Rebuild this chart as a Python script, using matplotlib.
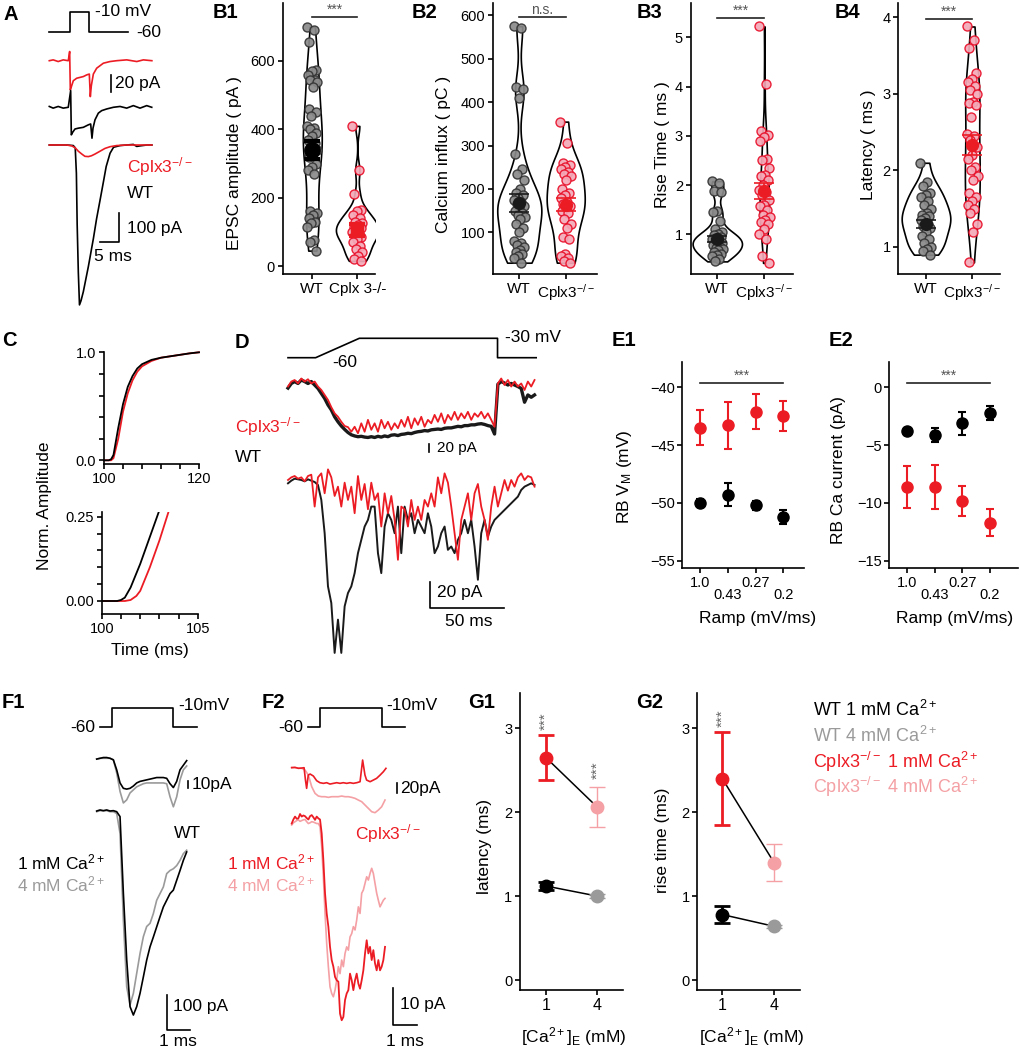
import matplotlib
matplotlib.use('Agg')
import matplotlib.pyplot as plt
import numpy as np

plt.rcParams['font.family'] = ['Liberation Sans', 'DejaVu Sans']
plt.rcParams['mathtext.fontset'] = 'custom'
plt.rcParams['mathtext.rm'] = 'Liberation Sans'
plt.rcParams['mathtext.it'] = 'Liberation Sans:italic'
plt.rcParams['mathtext.bf'] = 'Liberation Sans:bold'
plt.rcParams['axes.linewidth'] = 1.2
plt.rcParams['xtick.major.width'] = 1.2
plt.rcParams['ytick.major.width'] = 1.2
plt.rcParams['xtick.major.size'] = 3.5
plt.rcParams['ytick.major.size'] = 3.5
plt.rcParams['xtick.major.pad'] = 2
plt.rcParams['ytick.major.pad'] = 2
plt.rcParams['xtick.labelsize'] = 10.5
plt.rcParams['ytick.labelsize'] = 10.5

RED = '#ec1c24'
PINK = '#f4a0a4'
GRAY = '#9a9a9a'
WT_FACE, WT_EDGE = '#8a8a8a', '#333333'
KO_FACE, KO_EDGE = '#f4a9b8', '#e8102a'
KO = r'Cplx3$^{-/-}$'
CA = r'Ca$^{2+}$'
FS_LAB, FS_TXT, FS_PANEL = 12.5, 12.5, 14.5

# ---------------- data ----------------
# A: step, zoomed onset/offset currents, full EPSCs (ms, pA)
a_step_t = [0, 5.3, 5.3, 10.3, 10.3, 20.4]
a_step_v = [-60, -60, -10, -10, -60, -60]
a_zoom_t_ko = [0, 1.0, 2.3, 3.6, 4.9, 5.26, 5.43, 5.78, 6.2, 7.07, 7.93, 8.79, 9.66,
               10.34, 10.6, 10.86, 11.38, 12.24, 13.1, 13.97, 15.69, 17.4, 20.0, 22.6, 24.3, 26.5]
a_zoom_i_ko = [0, 1, -1, 1, 0, 11, -35, -30, -24, -21, -20, -19, -17,
               -16, -43, -30, -16, -9, -6, -3, -1, 0, 1, -1, 1, 0]
a_zoom_t_wt = [0, 1.0, 2.3, 3.6, 4.9, 5.52, 5.69, 6.03, 6.64, 7.5, 8.79, 10.09, 10.69,
               11.03, 11.29, 11.81, 12.67, 13.53, 14.83, 16.55, 18.28, 20.0, 21.72, 23.45, 25.17, 26.47]
a_zoom_i_wt = [1, -1, 1, -1, 0, 20, -33, -30, -26, -25, -24, -21, -20,
               -37, -25, -15, -7, -4, -2, 0, 1, -1, 2, -1, 2, 0]
a_full_t_wt = [0, 4.5, 6.2, 6.7, 7.0, 7.2, 7.5, 7.8, 8.2, 8.8, 9.5, 10.1, 11.4,
               12.2, 13.1, 14.0, 14.7, 15.7, 16.6, 18.3, 20.0, 21.7, 22.6, 23.5, 25.2, 26.5]
a_full_i_wt = [0, 0, -2, -10, -100, -280, -450, -565, -550, -518, -470, -429, -330,
               -262, -196, -129, -76, -29, -8, -2, 0, 2, -5, -3, 0, 0]
a_full_t_ko = [0, 4.5, 5.8, 6.7, 7.5, 8.4, 9.2, 10.1, 10.9, 11.8, 13.1, 14.4, 15.7, 17.4, 20.0, 26.5]
a_full_i_ko = [0, 0, -3, -10, -22, -32, -40, -41, -38, -32, -22, -12, -6, -2, 0, 0]

# B1-B4: single cells
b1_wt = [700, 690, 655, 575, 570, 560, 545, 545, 540, 525, 460, 450, 440, 410, 405, 400, 390,
         380, 370, 360, 350, 340, 330, 320, 300, 290, 280, 270, 160, 155, 150, 140, 130, 125,
         115, 75, 70, 45]
b1_ko = [410, 280, 210, 165, 160, 150, 140, 130, 125, 120, 115, 110, 105, 100, 95, 90, 85, 80,
         70, 60, 50, 40, 30, 20, 15]
b2_wt = [575, 570, 435, 430, 410, 280, 245, 235, 220, 200, 190, 185, 180, 175, 170, 165, 160,
         155, 150, 145, 140, 135, 130, 120, 110, 100, 80, 75, 70, 65, 60, 55, 50, 45, 40, 30]
b2_ko = [355, 305, 260, 255, 250, 245, 240, 235, 230, 220, 200, 190, 185, 180, 170, 165, 160,
         155, 150, 145, 130, 120, 110, 90, 85, 50, 45, 40, 35, 30]
b3_wt = [2.08, 2.05, 1.87, 1.85, 1.47, 1.45, 1.27, 1.1, 1.05, 1.0, 0.98, 0.95, 0.92, 0.9, 0.88,
         0.85, 0.83, 0.8, 0.78, 0.75, 0.72, 0.7, 0.68, 0.65, 0.6, 0.58, 0.55, 0.5, 0.45]
b3_ko = [5.22, 4.05, 3.1, 3.02, 2.98, 2.9, 2.52, 2.5, 2.35, 2.2, 2.18, 2.1, 2.0, 1.9, 1.85, 1.8,
         1.7, 1.6, 1.58, 1.5, 1.4, 1.35, 1.3, 1.25, 1.2, 1.1, 1.0, 0.9, 0.55, 0.42]
b4_wt = [2.1, 1.85, 1.8, 1.7, 1.68, 1.65, 1.6, 1.55, 1.5, 1.45, 1.42, 1.4, 1.38, 1.35, 1.3, 1.28,
         1.25, 1.2, 1.15, 1.1, 1.05, 1.0, 0.98, 0.95, 0.9]
b4_ko = [3.88, 3.7, 3.6, 3.27, 3.2, 3.15, 3.1, 3.05, 3.0, 2.9, 2.88, 2.85, 2.7, 2.48, 2.45, 2.4,
         2.3, 2.2, 2.15, 2.05, 2.0, 1.93, 1.88, 1.7, 1.65, 1.6, 1.55, 1.5, 1.45, 1.3, 1.2, 0.8]
b_mean = {'b1': (340, 105), 'b2': (168, 163), 'b3': (0.9, 1.88), 'b4': (1.3, 2.33)}
b_sem = {'b1': (27, 17), 'b2': (21, 15), 'b3': (0.06, 0.17), 'b4': (0.05, 0.13)}

# C: cumulative normalized charge
c_t = [100, 101, 101.5, 102, 103, 104, 105, 106, 107, 108, 110, 112, 115, 118, 120]
c_wt = [0, 0, 0.01, 0.05, 0.3, 0.52, 0.68, 0.78, 0.85, 0.89, 0.93, 0.95, 0.97, 0.99, 1.0]
c_ko = [0, 0, 0, 0.02, 0.2, 0.45, 0.62, 0.74, 0.82, 0.87, 0.92, 0.95, 0.97, 0.99, 1.0]
c_zt_wt = [100, 100.8, 101.0, 101.2, 101.5, 102, 102.5, 103.0]
c_zy_wt = [0, 0, 0.003, 0.01, 0.04, 0.11, 0.19, 0.27]
c_zt_ko = [100, 101.2, 101.5, 101.8, 102, 102.5, 103, 103.5]
c_zy_ko = [0, 0, 0.003, 0.015, 0.03, 0.1, 0.18, 0.27]

# D: ramp protocol, Ca currents and EPSCs (sampled every 2.24 ms, pA)
d_dt = 2.242
d_ramp_t = [0, 18.6, 48, 141, 141, 167]
d_ramp_v = [-60, -60, -30, -30, -60, -60]
d_up_wt = [-8, 4, 9, 4, 13, 9, 4, 9, 0, -9, -22, -35, -52, -65, -83, -96, -107, -116, -124, -130,
           -133, -135, -134, -136, -137, -135, -137, -134, -136, -133, -135, -131, -130, -132, -129,
           -128, -126, -127, -124, -122, -121, -119, -120, -117, -116, -115, -116, -113, -112, -112,
           -110, -108, -109, -106, -106, -104, -104, -102, -101, -103, -106, -108, -128, 2, 9, 5, 0,
           4, 0, -4, -9, -45, -26, -32, -26]
d_up_ko = [-4, 9, 13, 4, 17, 9, 15, 4, 9, -4, -13, -26, -39, -58, -74, -83, -96, -107, -110, -122,
           -109, -126, -100, -122, -91, -117, -100, -122, -91, -113, -96, -117, -100, -113, -91,
           -109, -83, -113, -87, -104, -83, -109, -91, -100, -78, -96, -74, -100, -78, -91, -70,
           -91, -74, -87, -70, -91, -74, -83, -70, -87, -74, -91, -109, 4, 17, 0, 13, -4, 9, -4, 4,
           -13, 9, -4, 13]
d_lo_wt = [-2.5, -0.5, 1, 0.5, 0, -1, 0.5, -0.5, -1.5, -3.75, -15, -40, -80, -92.5, -130, -105,
           -130, -95, -85, -80, -70, -55, -45, -35, -30, -20, -20, -55, -70, -35, -25, -30, -40,
           -20, -55, -20, -30, -25, -40, -30, -35, -40, -25, -35, -55, -50, -40, -35, -52.5, -50,
           -55, -45, -40, -30, -40, -30, -50, -75, -40, -30, -42.5, -35, -30, -27.5, -25, -22.5,
           -20, -17.5, -15, -12.5, -7.5, -5, -3.75, -2.5, -3.75]
d_lo_ko = [0, 2, 3, 1, 2, -1, 3, 4, -20, 2, 5, -10, 8, 2, -12, -5, -20, -2, -15, -5, -25, 3, -15,
           -3, -22, -2, -15, -10, -35, -10, -25, -12, -30, -60, -20, -22, -35, -15, -30, -20, -30,
           -15, -20, -10, -20, 2, -10, 5, -2, -20, -40, -60, -30, -20, -10, -30, -10, -3, -20, -30,
           -45, -20, -5, -20, -10, 0, -8, 0, -5, 2, 5, 0, 3, 2, -5]

# E: rheobase Vm and Ca current vs ramp speed
e_ramp = ['1.0', '0.43', '0.27', '0.2']
e1_ko_m = [-43.5, -43.3, -42.1, -42.5]; e1_ko_e = [1.5, 2.0, 1.5, 1.3]
e1_wt_m = [-50.0, -49.3, -50.2, -51.2]; e1_wt_e = [0.3, 1.0, 0.4, 0.6]
e2_wt_m = [-3.8, -4.1, -3.1, -2.2]; e2_wt_e = [0.3, 0.6, 1.0, 0.6]
e2_ko_m = [-8.6, -8.6, -9.8, -11.7]; e2_ko_e = [1.8, 1.9, 1.3, 1.2]

# F: EPSCs at 1 and 4 mM Ca (F1 dt = 1/7 ms, F2 lower dt = 1/14 ms)
f_step_v = [-60, -60, -10, -10, -60, -60]
f1_step_t = [0.143, 0.643, 0.643, 3.286, 3.286, 4.29]
f2_step_t = [0.714, 1.214, 1.214, 3.857, 3.857, 4.857]
f1_up_1 = [-1, 0, 1, 1, 0, -2, -15, -32, -39, -40, -39, -36, -32, -30, -29, -28, -27, -26, -25,
           -25, -25, -26, -33, -38, -30, -15, -9, -3]
f1_up_4 = [-1, 0, 0, 0, 0, -2, -19, -43, -58, -54, -45, -41, -37, -35, -33, -32, -32, -32, -32,
           -32, -32, -33, -50, -63, -50, -28, -15, -10]
f1_lo_1 = [0, 3, 1, 3, 0, 1, -2, -16, -235, -425, -559, -583, -559, -521, -474, -426, -388, -360,
           -331, -302, -274, -255, -236, -226, -198, -170, -141, -117]
f1_lo_4 = [-2, 1, 0, 1, -2, -2, -7, -64, -311, -502, -554, -521, -464, -407, -359, -330, -321,
           -293, -255, -236, -217, -179, -170, -165, -156, -141, -122, -112]
f2_up_t1 = [0, 0.14, 0.29, 0.43, 0.53, 0.59, 0.64, 0.71, 0.79, 0.93, 1.07, 1.21, 1.36, 1.5, 1.64,
            1.79, 1.93, 2.07, 2.21, 2.36, 2.5, 2.64, 2.79, 2.93, 3.04, 3.14, 3.21, 3.36, 3.5, 3.64,
            3.79, 3.93, 4.04]
f2_up_1 = [0, 0.7, -1.3, -0.7, 0, -24.7, -41.3, -14.7, -12.7, -16.7, -26, -30, -31.3, -30, -32.7,
           -31.3, -30, -31.3, -30, -31.3, -30, -31.3, -30, -28, 15.3, -14.7, -24.7, -28, -24.7,
           -21.3, -14.7, -8, -1.3]
f2_up_4 = [0.7, 0, -0.7, -1.3, -4.7, -14.7, -38, -51.3, -56.7, -58, -58, -59.3, -58, -58, -58,
           -56.7, -58, -58, -59.3, -61.3, -64.7, -68, -74.7, -81.3, -88, -90, -84.7, -78, -64.7]
f2_lo_1 = [-0.5, 0.6, 1.4, 0.8, 0.9, 2.1, 1.4, 1.7, 1.5, 1.0, 0.6, 1.5, 1.8, 1.2, 0.5, 1.4, 0.9,
           0.6, -3.2, -10.5, -19.5, -25, -28.6, -34.1, -37.7, -39.5, -42.3, -43.2, -43.6, -52.3,
           -54.1, -53.2, -48.6, -46.8, -45.9, -41.4, -43.2, -45.9, -43.2, -41.4, -44.1, -45.5,
           -43.2, -40.5, -35.9, -32.3, -35.9, -34.1, -37.7, -35, -38.6, -40.5, -37.7, -40.5, -39.5,
           -37.7, -34.1]
f2_lo_4 = [-0.9, -0.3, 0, 0.3, 0.5, 0.1, 0.3, 0.5, 0.6, 0, -0.5, -0.3, 0, -0.1, -0.3, -0.5, -0.5,
           -1.4, -6.8, -15, -25, -33.2, -39.5, -45, -46.8, -47.7, -45.9, -43.2, -39.5, -41.4,
           -37.7, -39.5, -35.9, -34.1, -35, -31.4, -30.5, -28.6, -29.5, -26.8, -23.2, -25, -19.5,
           -18.6, -16.8, -15, -15.9, -14.1, -12.7, -14.1, -16.8, -19.5, -21.4, -23.2, -22.3, -21.4,
           -20.9]

# G: latency / rise time summary; order WT1, WT4, KO1, KO4
g_names = ['WT 1 mM ' + CA, 'WT 4 mM ' + CA, KO + ' 1 mM ' + CA, KO + ' 4 mM ' + CA]
g_colors = ['black', GRAY, RED, PINK]
g_lat_m = [1.12, 1.0, 2.65, 2.06]; g_lat_e = [0.05, 0.02, 0.27, 0.24]
g_rt_m = [0.78, 0.64, 2.4, 1.4]; g_rt_e = [0.1, 0.02, 0.55, 0.22]

# ---------------- figure helpers ----------------
W, H = 1019, 1050
fig = plt.figure(figsize=(W / 100, H / 100), dpi=100)


def box(x0, y0, x1, y1):
    ax = fig.add_axes([x0 / W, 1 - y1 / H, (x1 - x0) / W, (y1 - y0) / H])
    ax.patch.set_alpha(0)
    return ax


def lims(pa, va, pb, vb, p_lo, p_hi):
    k = (vb - va) / (pb - pa)
    return va + (p_lo - pa) * k, va + (p_hi - pa) * k


def ftxt(x, y, s, **kw):
    kw.setdefault('fontsize', FS_TXT)
    kw.setdefault('va', 'center')
    fig.text(x / W, 1 - y / H, s, **kw)


def trace_ax(x0, y0, x1, y1, xcal, ycal):
    ax = box(x0, y0, x1, y1)
    ax.set_axis_off()
    ax.set_xlim(lims(*xcal, x0, x1))
    ax.set_ylim(lims(*ycal, y1, y0))
    return ax


def bar(ax, x, y, dx, dy):
    ax.plot([x + dx, x, x], [y, y, y + dy], color='black', lw=1.2, clip_on=False)


def frame(ax, px, xlab=None, xlab_y=None, ylab=None, ylab_xy=None):
    x0, y0, x1, y1 = px
    for s in ('top', 'right'):
        ax.spines[s].set_visible(False)
    if ylab:
        ax.set_ylabel(ylab, fontsize=FS_LAB, va='center')
        ax.yaxis.set_label_coords((ylab_xy[0] - x0) / (x1 - x0), (y1 - ylab_xy[1]) / (y1 - y0))
    if xlab:
        ax.set_xlabel(xlab, fontsize=FS_LAB, va='center')
        ax.xaxis.set_label_coords(0.5 if xlab_y[0] is None else (xlab_y[0] - x0) / (x1 - x0),
                                  (y1 - xlab_y[1]) / (y1 - y0))


def nrd0(kde):
    d = np.asarray(kde.dataset).ravel()
    sd = d.std(ddof=1)
    iqr = np.subtract(*np.percentile(d, [75, 25]))
    return 0.9 * min(sd, iqr / 1.34) * len(d) ** -0.2 / sd


# ---------------- A ----------------
ftxt(3, 14, 'A', fontsize=FS_PANEL, fontweight='bold')
xa = (49.3, 0, 68.65, 5)
ax = trace_ax(40, 0, 160, 40, xa, (32.3, -60, 11.7, -10))
ax.plot(a_step_t, a_step_v, color='black', lw=1.2, clip_on=False)
ax = trace_ax(40, 45, 160, 150, xa, (60.7, 0, 77.4, -20))
ax.plot(a_zoom_t_ko, a_zoom_i_ko, color=RED, lw=1.2, clip_on=False)
ax.plot(a_zoom_t_wt, np.array(a_zoom_i_wt) - 55.8, color='black', lw=1.2, clip_on=False)
bar(ax, 15.9, -37.6, 0, 20)
ax = trace_ax(40, 130, 160, 310, xa, (145, 0, 173.3, -100))
ax.plot(a_full_t_wt, a_full_i_wt, color='black', lw=1.2, clip_on=False)
ax.plot(a_full_t_ko, a_full_i_ko, color=RED, lw=1.2, clip_on=False)
bar(ax, 18.1, -341, -5, 100)
ftxt(95, 12, '-10 mV')
ftxt(136.7, 32.3, '-60')
ftxt(115, 83.3, '20 pA')
ftxt(126.7, 166.7, KO, color=RED)
ftxt(126.7, 193.3, 'WT')
ftxt(126.7, 228.3, '100 pA')
ftxt(113.3, 256.7, '5 ms', ha='center')

# ---------------- B1-B4 ----------------
def violin_panel(px, xcal, ycal, wt, ko, key, widths, yticks, ylab, ylab_xy, sig, sig_y,
                 xlabels, label, label_x, thick=False):
    x0, y0, x1, y1 = px
    ax = box(*px)
    ax.set_xlim(lims(*xcal, x0, x1))
    ax.set_ylim(lims(*ycal, y1, y0))
    for pos, d, w in ((1, wt, widths[0]), (2, ko, widths[1])):
        vp = ax.violinplot([d], positions=[pos], widths=w, showextrema=False,
                           bw_method=nrd0, points=200)
        for b in vp['bodies']:
            b.set_facecolor('white')
            b.set_edgecolor('black')
            b.set_linewidth(1.2)
            b.set_alpha(1)
            b.set_zorder(1)
    for pos, d, fc, ec in ((1, wt, WT_FACE, WT_EDGE), (2, ko, KO_FACE, KO_EDGE)):
        n = len(d)
        off = ((np.arange(n) * 0.618034) % 1 - 0.5) * 0.24
        ax.scatter(pos + off, d, s=42, fc=fc, ec=ec, lw=1.0, alpha=0.92, zorder=2)
    m, e = b_mean[key], b_sem[key]
    if thick:
        ax.errorbar(1, m[0], yerr=e[0], fmt='o', ms=11, color='black', elinewidth=3,
                    capsize=6, capthick=3, zorder=4)
        ax.errorbar(2, m[1], yerr=e[1], fmt='s', ms=9, color=RED, elinewidth=4,
                    capsize=6, capthick=3, zorder=4)
    else:
        ax.errorbar(1, m[0], yerr=e[0], fmt='o', ms=8.5, color='#1a1a1a', elinewidth=1.2,
                    capsize=7, capthick=1.2, zorder=4)
        ax.errorbar(2, m[1], yerr=e[1], fmt='o', ms=8.5, color=RED, elinewidth=1.2,
                    capsize=7, capthick=1.2, zorder=4)
    ax.plot([1, 2], [sig_y, sig_y], color='#222222', lw=1.2, clip_on=False)
    ax.text(1.5, sig_y, sig, ha='center', va='bottom', fontsize=10, color='#555555')
    ax.set_xticks([1, 2], xlabels, fontsize=11)
    ax.set_yticks(yticks)
    frame(ax, px, ylab=ylab, ylab_xy=ylab_xy)
    ftxt(label_x, 12, label, fontsize=FS_PANEL, fontweight='bold')


violin_panel((282.7, 3, 375, 274), (312.3, 1, 357.3, 2), (266, 0, 61, 600), b1_wt, b1_ko, 'b1',
             (0.42, 0.95), [0, 200, 400, 600], 'EPSC amplitude ( pA )', (234, 163), '***', 730,
             ['WT', 'Cplx 3-/-'], 'B1', 213, thick=True)
violin_panel((492.7, 3, 596.7, 274), (519.3, 1, 565.7, 2), (232.3, 100, 15.3, 600), b2_wt, b2_ko,
             'b2', (0.95, 0.82), [100, 200, 300, 400, 500, 600], 'Calcium influx ( pC )',
             (444, 154), 'n.s.', 595, ['WT', KO], 'B2', 411.7)
violin_panel((690.7, 3, 792.7, 274), (717.3, 1, 764.3, 2), (234.3, 1, 37.3, 5), b3_wt, b3_ko,
             'b3', (1.05, 0.2), [1, 2, 3, 4, 5], 'Rise Time ( ms )', (662, 145), '***', 5.4,
             ['WT', KO], 'B3', 636.7)
violin_panel((898.3, 3, 1000, 274), (926, 1, 972.3, 2), (247, 1, 17.3, 4), b4_wt, b4_ko,
             'b4', (1.05, 0.32), [1, 2, 3, 4], 'Latency ( ms )', (869, 145), '***', 3.98,
             ['WT', KO], 'B4', 835)

# ---------------- C ----------------
ftxt(2, 340, 'C', fontsize=FS_PANEL, fontweight='bold')
px = (104, 352.3, 199, 464)
ax = box(*px)
ax.set_xlim(100, 120)
ax.set_ylim(lims(460.3, 0, 352.3, 1, 464, 352.3))
ax.plot(c_t, c_ko, color=RED, lw=1.3, clip_on=False)
ax.plot(c_t, c_wt, color='black', lw=1.3, clip_on=False)
ax.set_yticks([0, 0.2, 0.4, 0.6, 0.8, 1.0], ['0.0', '', '', '', '', '1.0'])
ax.set_xticks([100, 104, 108, 112, 116, 120], ['100', '', '', '', '', '120'])
frame(ax, px)
px = (101.7, 512, 198, 614)
ax = box(*px)
ax.set_xlim(100, 105)
ax.set_ylim(lims(601, 0, 516.7, 0.25, 614, 512))
ax.plot(c_zt_ko, c_zy_ko, color=RED, lw=1.3)
ax.plot(c_zt_wt, c_zy_wt, color='black', lw=1.3)
ax.set_yticks([0, 0.05, 0.1, 0.15, 0.2, 0.25], ['0.00', '', '', '', '', '0.25'])
ax.set_xticks([100, 101, 102, 103, 104, 105], ['100', '', '', '', '', '105'])
frame(ax, px, xlab='Time (ms)', xlab_y=(150, 650), ylab='Norm. Amplitude', ylab_xy=(44, 506))

# ---------------- D ----------------
ftxt(235, 342, 'D', fontsize=FS_PANEL, fontweight='bold')
xd = (288, 0, 362.3, 50)
ax = trace_ax(280, 330, 545, 372, xd, (357.7, -60, 338.3, -30))
ax.plot(d_ramp_t, d_ramp_v, color='black', lw=1.2, clip_on=False)
ax = trace_ax(280, 372, 545, 460, xd, (385, 0, 392.66, -20))
ax.plot(np.arange(len(d_up_wt)) * d_dt, d_up_wt, color='#1a1a1a', lw=2.4, clip_on=False)
ax.plot(np.arange(len(d_up_ko)) * d_dt, d_up_ko, color=RED, lw=1.3, clip_on=False)
bar(ax, 95.1, -174, 0, 20)
ax = trace_ax(280, 455, 545, 665, xd, (480, 0, 506.6, -20))
ax.plot(np.arange(len(d_lo_wt)) * d_dt, d_lo_wt, color='#1a1a1a', lw=1.4, clip_on=False)
ax.plot(np.arange(len(d_lo_ko)) * d_dt, d_lo_ko, color=RED, lw=1.3, clip_on=False)
bar(ax, 95.6, -96.5, 50, 20)
ftxt(345, 362, '-60', ha='center')
ftxt(505, 338, '-30 mV')
ftxt(436.7, 448, '20 pA', fontsize=11)
ftxt(235, 427, KO, color=RED)
ftxt(235, 457, 'WT')
ftxt(436.7, 593, '20 pA')
ftxt(468.3, 621.7, '50 ms', ha='center')

# ---------------- E1, E2 ----------------
def dot_panel(px, xcal, ycal, series, yticks, ylab, ylab_xy, xlab_x, sig_y, label, label_x):
    x0, y0, x1, y1 = px
    ax = box(*px)
    ax.set_xlim(lims(*xcal, x0, x1))
    ax.set_ylim(lims(*ycal, y1, y0))
    xs = np.arange(1, 5)
    for m, e, c in series:
        ax.errorbar(xs, m, yerr=e, fmt='o', ms=8, color=c, elinewidth=1.5, capsize=3,
                    capthick=1.5, zorder=3)
    ax.plot([1, 4], [sig_y, sig_y], color='#222222', lw=1.2)
    ax.text(2.5, sig_y, '***', ha='center', va='bottom', fontsize=10, color='#555555')
    ax.set_xticks(xs, [e_ramp[0], '\n' + e_ramp[1], e_ramp[2], '\n' + e_ramp[3]])
    for t in ax.get_xticklabels():
        t.set_linespacing(0.85)
    ax.set_yticks(yticks)
    frame(ax, px, xlab='Ramp (mV/ms)', xlab_y=(xlab_x, 618), ylab=ylab, ylab_xy=ylab_xy)
    ftxt(label_x, 340, label, fontsize=FS_PANEL, fontweight='bold')


dot_panel((682.3, 361.7, 804, 568.3), (700, 1, 783.3, 4), (387.3, -40, 560.7, -55),
          [(e1_ko_m, e1_ko_e, RED), (e1_wt_m, e1_wt_e, 'black')], [-40, -45, -50, -55],
          r'RB V$_\mathrm{M}$ (mV)', (624, 477), 757.3, -39.65, 'E1', 612)
dot_panel((889.3, 361.7, 1018, 568.3), (907.3, 1, 990, 4), (387.3, 0, 560.7, -15),
          [(e2_wt_m, e2_wt_e, 'black'), (e2_ko_m, e2_ko_e, RED)], [0, -5, -10, -15],
          'RB Ca current (pA)', (839, 470), 955, 0.35, 'E2', 829)

# ---------------- F1, F2 ----------------
ftxt(2, 702, 'F1', fontsize=FS_PANEL, fontweight='bold')
ftxt(261.7, 702, 'F2', fontsize=FS_PANEL, fontweight='bold')
xf1 = (96.7, 0, 120.03, 1)
xf2 = (291.7, 0, 315.03, 1)
f_dt = 1 / 7
ax = trace_ax(90, 695, 200, 735, xf1, (726.7, -60, 707.7, -10))
ax.plot(f1_step_t, f_step_v, color='black', lw=1.2, clip_on=False)
ax = trace_ax(90, 740, 200, 800, xf1, (758.3, 0, 766, -10))
ax.plot(np.arange(len(f1_up_4)) * f_dt, f1_up_4, color=GRAY, lw=1.2, clip_on=False)
ax.plot(np.arange(len(f1_up_1)) * f_dt, f1_up_1, color='black', lw=1.2, clip_on=False)
bar(ax, 3.9, -39, 0, 10)
ax = trace_ax(90, 800, 200, 1050, xf1, (811, 0, 846, -100))
ax.plot(np.arange(len(f1_lo_4)) * f_dt, f1_lo_4, color=GRAY, lw=1.2, clip_on=False)
ax.plot(np.arange(len(f1_lo_1)) * f_dt, f1_lo_1, color='black', lw=1.2, clip_on=False)
bar(ax, 3.0, -626, 1, 100)
ftxt(95, 727, '-60', ha='right')
ftxt(178, 706, '-10mV')
ftxt(192, 785, '10pA')
ftxt(187, 834, 'WT', ha='center')
ftxt(16.7, 862, '1 mM ' + CA)
ftxt(16.7, 884, '4 mM ' + CA, color=GRAY)
ftxt(173.3, 1006, '100 pA')
ftxt(178.3, 1041, '1 ms', ha='center')

ax = trace_ax(285, 695, 410, 735, xf2, (726.7, -60, 707.7, -10))
ax.plot(f2_step_t, f_step_v, color='black', lw=1.2, clip_on=False)
ax = trace_ax(285, 740, 410, 800, xf2, (767.7, 0, 777.7, -20))
ax.plot(np.arange(len(f2_up_4)) * f_dt, f2_up_4, color=PINK, lw=1.2, clip_on=False)
ax.plot(f2_up_t1, f2_up_1, color=RED, lw=1.2, clip_on=False)
bar(ax, 4.5, -50, 0, 20)
ax = trace_ax(285, 800, 410, 1050, xf2, (821.7, 0, 858.4, -10))
ax.plot(np.arange(len(f2_lo_4)) * f_dt / 2, f2_lo_4, color=PINK, lw=1.2, clip_on=False)
ax.plot(np.arange(len(f2_lo_1)) * f_dt / 2, f2_lo_1, color=RED, lw=1.3, clip_on=False)
bar(ax, 4.35, -55.4, 1, 10)
ftxt(303.3, 727, '-60', ha='right')
ftxt(386.7, 706, '-10mV')
ftxt(400, 788, '20pA')
ftxt(355, 834, KO, color=RED)
ftxt(226.7, 862, '1 mM ' + CA, color=RED)
ftxt(226.7, 884, '4 mM ' + CA, color=PINK)
ftxt(400, 1005, '10 pA')
ftxt(405, 1041, '1 ms', ha='center')

# ---------------- G1, G2 ----------------
def summary_panel(px, xcal, m, e, ylab, ylab_xy, xlab_x, stars, label, label_x):
    x0, y0, x1, y1 = px
    ax = box(*px)
    ax.set_xlim(lims(*xcal, x0, x1))
    ax.set_ylim(lims(728.3, 3, 980, 0, y1, y0))
    xs = [1, 2, 1, 2]
    ax.plot([1, 2], m[:2], color='black', lw=1.1, zorder=2)
    ax.plot([1, 2], m[2:], color='black', lw=1.1, zorder=2)
    lw = [2, 1, 2, 1]
    for x, mm, ee, c, w in zip(xs, m, e, g_colors, lw):
        ax.errorbar(x, mm, yerr=ee, fmt='o', ms=9, color=c, elinewidth=w, capsize=6,
                    capthick=w, zorder=3)
    for x, y in stars:
        ax.text(x, y, '***', rotation=90, ha='center', va='bottom', fontsize=11,
                color='#666666')
    ax.set_xticks([1, 2], ['1', '4'], fontsize=11.5)
    ax.set_yticks([0, 1, 2, 3])
    frame(ax, px, xlab=r'[Ca$^{2+}$]$_\mathrm{E}$ (mM)', xlab_y=(xlab_x, 1037),
          ylab=ylab, ylab_xy=ylab_xy)
    ftxt(label_x, 702, label, fontsize=FS_PANEL, fontweight='bold')


summary_panel((520, 693.3, 623.3, 990), (546, 1, 597.3, 2), g_lat_m, g_lat_e, 'latency (ms)',
              (485, 847), 573.3, [(1, 2.98), (2, 2.4)], 'G1', 468)
summary_panel((697.3, 693.3, 800, 990), (722.3, 1, 774, 2), g_rt_m, g_rt_e, 'rise time (ms)',
              (663, 840), 751.7, [(1, 3.02)], 'G2', 636)
for i, (name, c) in enumerate(zip(g_names, g_colors)):
    ftxt(812.7, 710 + i * 25.8, name, color=c, fontsize=13)

fig.savefig('out.png', dpi=100)
